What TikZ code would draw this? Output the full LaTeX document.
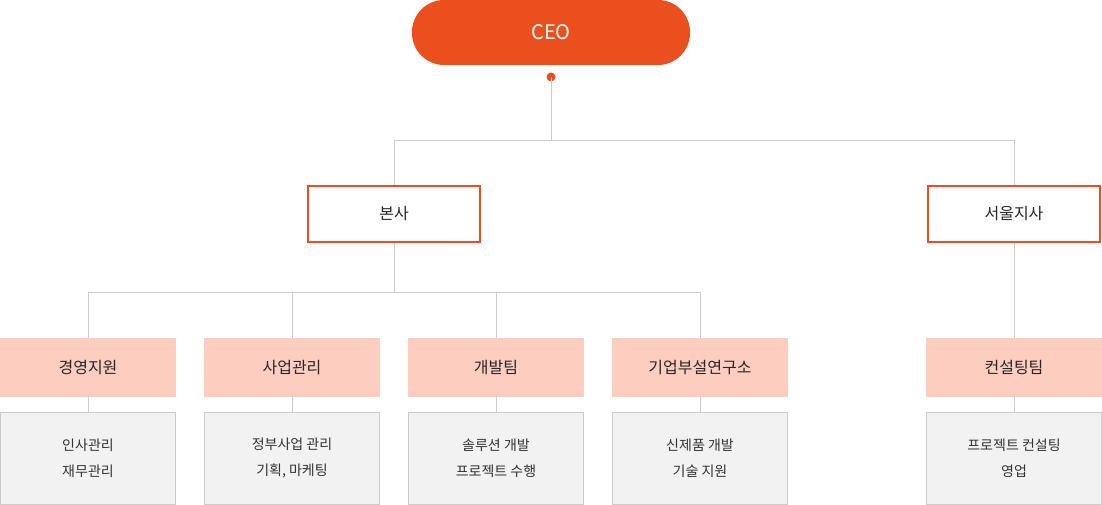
\documentclass[tikz,border=0pt]{standalone}
\usepackage{fontspec}
\setmainfont{Noto Sans CJK KR}
\usetikzlibrary{positioning}
\definecolor{ceoorange}{HTML}{EB4F1E}
\definecolor{deptpink}{HTML}{FDCDBF}
\definecolor{subgray}{HTML}{F2F2F2}
\definecolor{linegray}{HTML}{CCCCCC}
\tikzset{
    ceo-box/.style = {fill=ceoorange, text=white, rounded corners=32pt, minimum width=278pt, minimum height=65pt, font=\fontsize{20}{24}\selectfont},
    branch-box/.style = {draw=ceoorange, fill=white, line width=1.5pt, minimum width=172pt, minimum height=56pt, font=\fontsize{16}{20}\selectfont, text=black!85},
    dept-box/.style = {fill=deptpink, minimum width=176pt, minimum height=59pt, font=\fontsize{16}{20}\selectfont, text=black!85},
    sub-box/.style = {draw=linegray, fill=subgray, minimum width=175pt, minimum height=92pt, align=center, font=\fontsize{14}{26}\selectfont, text=black!80},
    link/.style = {draw=linegray, line width=0.8pt},
}
\begin{document}
\begin{tikzpicture}[x=1pt,y=-1pt]
\useasboundingbox (0,0) rectangle (1102,505);
\node [ceo-box] (ceo) at (551,32.5) {CEO};
\fill [ceoorange] (551,77) circle (4.5pt) coordinate (dot);
\node [branch-box] (hq) at (394,214) {본사};
\node [branch-box] (seoul) at (1014,214) {서울지사};
% departments
\node [dept-box] (mgmt) at (88,367.5) {경영지원};
\node [dept-box] (biz) at (292,367.5) {사업관리};
\node [dept-box] (dev) at (496,367.5) {개발팀};
\node [dept-box] (lab) at (700,367.5) {기업부설연구소};
\node [dept-box] (cons) at (1014,367.5) {컨설팅팀};
% tasks
\node [sub-box] (mgmt-sub) at (88,458) {인사관리\\재무관리};
\node [sub-box] (biz-sub) at (292,458) {정부사업 관리\\기획, 마케팅};
\node [sub-box] (dev-sub) at (496,458) {솔루션 개발\\프로젝트 수행};
\node [sub-box] (lab-sub) at (700,458) {신제품 개발\\기술 지원};
\node [sub-box] (cons-sub) at (1014,458) {프로젝트 컨설팅\\영업};
% connectors
\draw [link] (dot) -- (551,140) -| (hq.north);
\draw [link] (551,140) -| (seoul.north);
\draw [link] (hq.south) -- (394,292) -| (mgmt.north);
\draw [link] (394,292) -| (biz.north);
\draw [link] (394,292) -| (dev.north);
\draw [link] (394,292) -| (lab.north);
\draw [link] (seoul.south) -- (cons.north);
\foreach \d in {mgmt,biz,dev,lab,cons}
    \draw [link] (\d.south) -- (\d-sub.north);
\end{tikzpicture}
\end{document}
